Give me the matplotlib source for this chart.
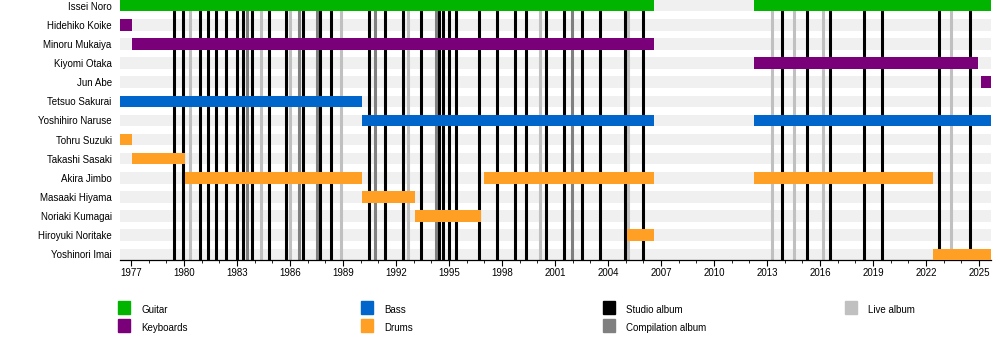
import matplotlib
matplotlib.use("Agg")
import matplotlib.pyplot as plt
from matplotlib.patches import Rectangle
from matplotlib.ticker import MultipleLocator

plt.rcParams['font.family'] = ['Liberation Sans', 'DejaVu Sans']

# Timeline window (decimal years)
start_year = 1976.38
end_year = 2025.67

members = [
    "Issei Noro", "Hidehiko Koike", "Minoru Mukaiya", "Kiyomi Otaka", "Jun Abe",
    "Tetsuo Sakurai", "Yoshihiro Naruse", "Tohru Suzuki", "Takashi Sasaki",
    "Akira Jimbo", "Masaaki Hiyama", "Noriaki Kumagai", "Hiroyuki Noritake",
    "Yoshinori Imai",
]

# Membership stints
stint_member = [
    "Issei Noro", "Issei Noro",
    "Hidehiko Koike", "Minoru Mukaiya", "Kiyomi Otaka", "Jun Abe",
    "Tetsuo Sakurai", "Yoshihiro Naruse", "Yoshihiro Naruse",
    "Tohru Suzuki", "Takashi Sasaki",
    "Akira Jimbo", "Akira Jimbo", "Akira Jimbo",
    "Masaaki Hiyama", "Noriaki Kumagai", "Hiroyuki Noritake", "Yoshinori Imai",
]
stint_role = [
    "Guitar", "Guitar",
    "Keyboards", "Keyboards", "Keyboards", "Keyboards",
    "Bass", "Bass", "Bass",
    "Drums", "Drums",
    "Drums", "Drums", "Drums",
    "Drums", "Drums", "Drums", "Drums",
]
stint_start = [
    1976.38, 2012.26,
    1976.38, 1977.06, 2012.26, 2025.10,
    1976.38, 1990.06, 2012.26,
    1976.38, 1977.06,
    1980.06, 1997.00, 2012.26,
    1990.06, 1993.07, 2005.05, 2022.40,
]
stint_end = [
    2006.60, 2025.67,
    1977.06, 2006.60, 2024.92, 2025.67,
    1990.06, 2006.60, 2025.67,
    1977.06, 1980.06,
    1990.06, 2006.60, 2022.40,
    1993.07, 1996.80, 2006.60, 2025.67,
]

# Release dates
studio_albums = [
    1979.43, 1979.93, 1980.92, 1981.34, 1981.83, 1982.39, 1983.00, 1983.34,
    1983.86, 1984.83, 1985.75, 1986.72, 1987.71, 1988.34, 1990.49, 1991.39,
    1992.40, 1993.40, 1994.41, 1994.67, 1994.98, 1995.41, 1996.71, 1997.70,
    1998.75, 1999.37, 2000.46, 2001.52, 2002.54, 2003.54, 2004.93, 2005.99,
    2013.86, 2015.27, 2016.57, 2018.50, 2019.52, 2022.74, 2024.48,
]
live_albums = [
    1980.36, 1984.34, 1986.02, 1988.88, 1992.65, 2000.16, 2005.14,
    2013.28, 2014.52, 2016.18, 2023.38,
]
compilation_albums = [1983.54, 1986.51, 1987.51, 1990.83, 1994.24, 2001.98]

role_colors = {
    "Guitar": "#00b400",
    "Keyboards": "#7a007a",
    "Bass": "#0066cc",
    "Drums": "#ffa024",
}
release_colors = {
    "Studio album": "#000000",
    "Compilation album": "#808080",
    "Live album": "#c0c0c0",
}

fig = plt.figure(figsize=(10, 3.5), dpi=100)
ax = fig.add_axes([0.12, 0.257, 0.871, 0.743])

row_of = {m: i for i, m in enumerate(members)}
bar_h = 0.6

# Light background band per member row
ax.barh(range(len(members)), end_year - start_year, left=start_year,
        height=bar_h, color="#f0f0f0", zorder=0)

# Release markers
for yr in live_albums:
    ax.axvline(yr, color=release_colors["Live album"], lw=2.2, zorder=1)
for yr in compilation_albums:
    ax.axvline(yr, color=release_colors["Compilation album"], lw=2.2, zorder=1)
for yr in studio_albums:
    ax.axvline(yr, color=release_colors["Studio album"], lw=2.2, zorder=2)

# Member bars
for m, r, s, e in zip(stint_member, stint_role, stint_start, stint_end):
    ax.barh(row_of[m], e - s, left=s, height=bar_h,
            color=role_colors[r], zorder=3)

ax.set_xlim(start_year, end_year)
ax.set_ylim(len(members) - 1 + 0.3, -0.3)
ax.set_yticks(range(len(members)))
ax.set_yticklabels(members, fontsize=7)
ax.tick_params(axis="y", length=0, pad=6)

ax.xaxis.set_major_locator(MultipleLocator(3))
ax.xaxis.set_minor_locator(MultipleLocator(1))
ax.set_xticks(list(range(1977, 2026, 3)))
ax.tick_params(axis="x", which="major", length=4, width=0.8, labelsize=7, pad=2)
ax.tick_params(axis="x", which="minor", length=2.5, width=0.6)

for side in ("left", "top", "right"):
    ax.spines[side].set_visible(False)
ax.spines["bottom"].set_linewidth(0.9)

# Legend
legend_items = [
    ("Guitar", role_colors["Guitar"], 0, 0),
    ("Keyboards", role_colors["Keyboards"], 0, 1),
    ("Bass", role_colors["Bass"], 1, 0),
    ("Drums", role_colors["Drums"], 1, 1),
    ("Studio album", release_colors["Studio album"], 2, 0),
    ("Compilation album", release_colors["Compilation album"], 2, 1),
    ("Live album", release_colors["Live album"], 3, 0),
]
col_x = [118, 361, 603, 845]
row_y = [307, 325]
W, H = 1000, 350
for label, color, c, r in legend_items:
    x0 = col_x[c]
    yc = row_y[r]
    fig.patches.append(Rectangle((x0 / W, 1 - (yc + 6.5) / H), 12 / W, 13 / H,
                                 transform=fig.transFigure, color=color,
                                 figure=fig))
    fig.text((x0 + 23) / W, 1 - (yc + 3) / H, label, fontsize=7,
             va="center", ha="left")

fig.savefig("out.png", dpi=100)
